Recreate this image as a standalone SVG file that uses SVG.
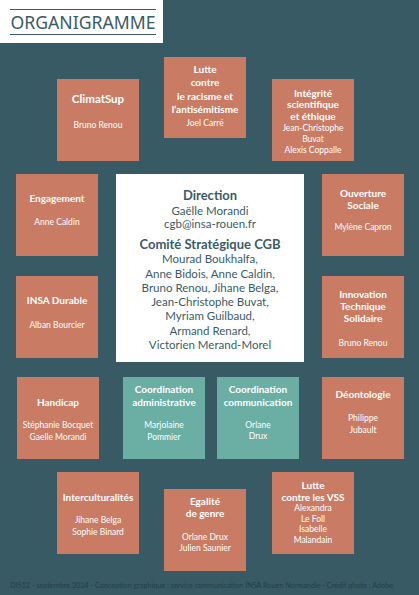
<svg xmlns="http://www.w3.org/2000/svg" width="419" height="595" viewBox="0 0 419 595">
<style>
.bg{fill:#375a65}
.s{fill:#c97b63}
.t{fill:#6aaea4}
.w{fill:#ffffff}
text{font-family:Lato,"Noto Sans",sans-serif;text-anchor:middle;fill:#ffffff}
.h{font-weight:bold;font-size:10px}
.n{font-size:8.5px}
.c{fill:#3a5b66}
.ch{font-weight:bold;font-size:13px}
.cn{font-size:11.5px}
</style>
<rect class="bg" x="0" y="0" width="419" height="595"/>
<g id="title">
<rect class="w" x="0" y="0" width="163" height="43"/>
<line x1="10" y1="9.5" x2="156" y2="9.5" stroke="#3c5a66" stroke-width="1"/>
<line x1="10" y1="34.5" x2="156" y2="34.5" stroke="#3c5a66" stroke-width="1"/>
<text x="83" y="28.5" style="font-family:'Noto Sans',sans-serif;font-size:18px;fill:#3c5a66" textLength="145" lengthAdjust="spacingAndGlyphs">ORGANIGRAMME</text>
</g>
<g id="connectors"></g>
<g id="climatsup"><rect class="s" x="57" y="79" width="82" height="82"/>
<text x="98" y="103" style="font-weight:bold;font-size:11.5px">ClimatSup</text>
<text class="n" x="98" y="128">Bruno Renou</text></g>
<g id="racisme"><rect class="s" x="164" y="57" width="82" height="81"/>
<text class="h" x="205" y="72.5">Lutte</text>
<text class="h" x="205" y="86">contre</text>
<text class="h" x="205" y="99.5">le racisme et</text>
<text class="h" x="205" y="112.5">l’antisémitisme</text>
<text class="n" x="205" y="126">Joel Carré</text></g>
<g id="integrite"><rect class="s" x="272" y="79" width="82" height="82"/>
<text class="h" x="313" y="96.5">Intégrité</text>
<text class="h" x="313" y="108">scientifique</text>
<text class="h" x="313" y="119.5">et éthique</text>
<text class="n" x="313" y="130.5">Jean-Christophe</text>
<text class="n" x="313" y="141.5">Buvat</text>
<text class="n" x="313" y="152.5">Alexis Coppalle</text></g>
<g id="engagement"><rect class="s" x="16" y="174" width="82" height="82"/>
<text class="h" x="57" y="201.5">Engagement</text>
<text class="n" x="57" y="225">Anne Caldin</text></g>
<g id="insadurable"><rect class="s" x="16" y="276" width="82" height="82"/>
<text class="h" x="57" y="303.5">INSA Durable</text>
<text class="n" x="57" y="328">Alban Bourcier</text></g>
<g id="direction"><rect class="w" x="116" y="174" width="188" height="188"/>
<text class="c ch" x="210" y="199.5">Direction</text>
<text class="c cn" x="210" y="214.5">Gaëlle Morandi</text>
<text class="c cn" x="210" y="228">cgb@insa-rouen.fr</text>
<text class="c ch" x="210" y="248.5">Comité Stratégique CGB</text>
<text class="c cn" x="210" y="263">Mourad Boukhalfa,</text>
<text class="c cn" x="210" y="277.5">Anne Bidois, Anne Caldin,</text>
<text class="c cn" x="210" y="291.5">Bruno Renou, Jihane Belga,</text>
<text class="c cn" x="210" y="306">Jean-Christophe Buvat,</text>
<text class="c cn" x="210" y="320">Myriam Guilbaud,</text>
<text class="c cn" x="210" y="335">Armand Renard,</text>
<text class="c cn" x="210" y="349">Victorien Merand-Morel</text></g>
<g id="ouverture"><rect class="s" x="322" y="174" width="82" height="82"/>
<text class="h" x="363" y="196.5">Ouverture</text>
<text class="h" x="363" y="208.5">Sociale</text>
<text class="n" x="363" y="230">Mylène Capron</text></g>
<g id="innovation"><rect class="s" x="322" y="276" width="82" height="82"/>
<text class="h" x="363" y="297.5">Innovation</text>
<text class="h" x="363" y="309.5">Technique</text>
<text class="h" x="363" y="321.5">Solidaire</text>
<text class="n" x="363" y="346">Bruno Renou</text></g>
<g id="handicap"><rect class="s" x="17" y="377" width="82" height="82"/>
<text class="h" x="58" y="405.5">Handicap</text>
<text class="n" x="58" y="428">Stéphanie Bocquet</text>
<text class="n" x="58" y="440">Gaelle Morandi</text></g>
<g id="coordadmin"><rect class="t" x="123" y="377" width="82" height="82"/>
<text class="h" x="164" y="392.5">Coordination</text>
<text class="h" x="164" y="405.5">administrative</text>
<text class="n" x="164" y="428">Marjolaine</text>
<text class="n" x="164" y="440">Pommier</text></g>
<g id="coordcomm"><rect class="t" x="217" y="377" width="82" height="82"/>
<text class="h" x="258" y="392.5">Coordination</text>
<text class="h" x="258" y="405.5">communication</text>
<text class="n" x="258" y="428">Orlane</text>
<text class="n" x="258" y="439">Drux</text></g>
<g id="deontologie"><rect class="s" x="322" y="377" width="82" height="82"/>
<text class="h" x="363" y="397.5">Déontologie</text>
<text class="n" x="363" y="421">Philippe</text>
<text class="n" x="363" y="433">Jubault</text></g>
<g id="interculturalites"><rect class="s" x="57" y="472" width="82" height="82"/>
<text class="h" x="98" y="500.5">Interculturalités</text>
<text class="n" x="98" y="523">Jihane Belga</text>
<text class="n" x="98" y="535">Sophie Binard</text></g>
<g id="egalite"><rect class="s" x="164" y="489" width="82" height="82"/>
<text class="h" x="205" y="504.5">Egalité</text>
<text class="h" x="205" y="516.5">de genre</text>
<text class="n" x="205" y="540">Orlane Drux</text>
<text class="n" x="205" y="551">Julien Saunier</text></g>
<g id="vss"><rect class="s" x="272" y="472" width="82" height="82"/>
<text class="h" x="313" y="488.5">Lutte</text>
<text class="h" x="313" y="500.5">contre les VSS</text>
<text class="n" x="313" y="511">Alexandra</text>
<text class="n" x="313" y="522">Le Foll</text>
<text class="n" x="313" y="532">Isabelle</text>
<text class="n" x="313" y="543">Malandain</text></g>
<text x="10" y="587.5" style="text-anchor:start;font-size:6.6px;fill:#22414a" textLength="383" lengthAdjust="spacingAndGlyphs">DI512 - septembre 2024 - Conception graphique : service communication INSA Rouen Normandie - Crédit photo : Adobe</text>
</svg>
